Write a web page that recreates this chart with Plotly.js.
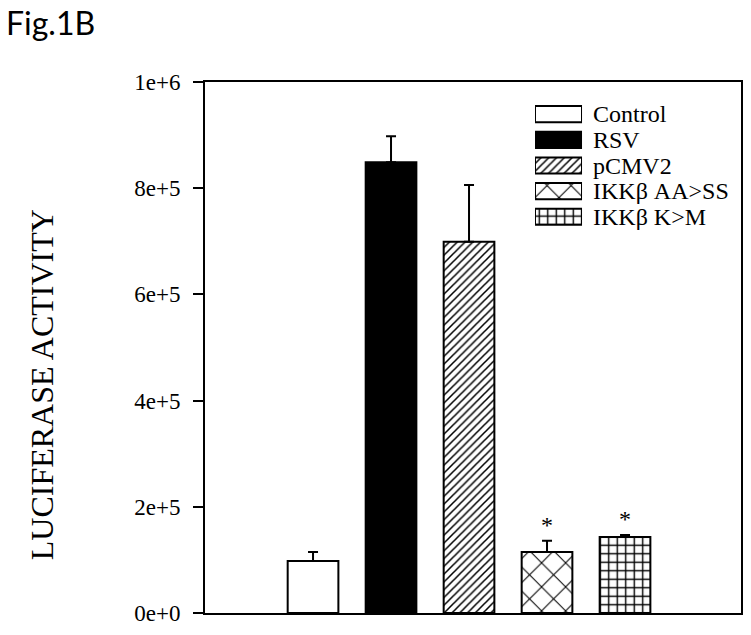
<!DOCTYPE html>
<html><head><meta charset="utf-8">
<script src="https://cdn.plot.ly/plotly-3.0.1.min.js"></script>
<style>html,body{margin:0;padding:0;background:#fff}#chart{width:751px;height:635px}</style>
</head><body><div id="chart"></div>
<script>
const categories = ["Control", "RSV", "pCMV2", "IKKβ AA>SS", "IKKβ K>M"];
const values = [98000, 849000, 699000, 115000, 143000];
const errors = [17000, 49000, 107000, 21000, 4000];
const significant = [false, false, false, true, true];
const tickValues = [0, 200000, 400000, 600000, 800000, 1000000];
const tickLabels = ["0e+0", "2e+5", "4e+5", "6e+5", "8e+5", "1e+6"];

const fills = [
  {color: "#ffffff", pattern: {shape: ""}},
  {color: "#000000", pattern: {shape: ""}},
  {color: "#ffffff", pattern: {shape: "/", size: 5.5, solidity: 0.28, fgcolor: "#000", bgcolor: "#fff", fillmode: "replace"}},
  {color: "#ffffff", pattern: {shape: "x", size: 17, solidity: 0.12, fgcolor: "#000", bgcolor: "#fff", fillmode: "replace"}},
  {color: "#ffffff", pattern: {shape: "+", size: 8.5, solidity: 0.3, fgcolor: "#000", bgcolor: "#fff", fillmode: "replace"}}
];

// main bars
const traces = categories.map((c, i) => ({
  type: "bar",
  name: c,
  x: [i],
  y: [values[i]],
  width: 0.65,
  showlegend: false,
  marker: {color: fills[i].color, pattern: fills[i].pattern, line: {color: "#000", width: 2}},
  error_y: {type: "data", array: [errors[i]], arrayminus: [0], symmetric: false, color: "#000", thickness: 2, width: 5},
  hoverinfo: "skip"
}));

// legend swatches (drawn as bars on a small inset axis so patterns show at full size)
categories.forEach((c, i) => {
  traces.push({
    type: "bar", orientation: "h", name: c,
    x: [1], y: [i], width: 0.63, base: 0,
    xaxis: "x2", yaxis: "y2", showlegend: false, hoverinfo: "skip",
    marker: {color: fills[i].color, pattern: fills[i].pattern, line: {color: "#000", width: 2}}
  });
});

const annotations = [];
categories.forEach((c, i) => {
  if (significant[i]) {
    annotations.push({x: i, y: values[i] + errors[i], xref: "x", yref: "y", text: "*", showarrow: false,
      yanchor: "bottom", yshift: 1, font: {family: "Liberation Serif", size: 24, color: "#000"}});
  }
  annotations.push({x: 1, y: i, xref: "x2", yref: "y2", text: c, showarrow: false, xanchor: "left", yanchor: "middle",
    xshift: 9, font: {family: "Liberation Serif", size: 24, color: "#000"}});
});
annotations.push({x: -0.304, y: 0.429, xref: "paper", yref: "paper", xanchor: "center", yanchor: "middle",
  text: "LUCIFERASE ACTIVITY", textangle: -90,
  showarrow: false, font: {family: "Liberation Serif", size: 32, color: "#000"}});
annotations.push({x: -0.375, y: 1.152, xref: "paper", yref: "paper", xanchor: "left", yanchor: "top",
  text: "Fig.1B", showarrow: false, font: {family: "Lato", size: 32, color: "#000"}});

const layout = {
  width: 751, height: 635,
  margin: {l: 205, r: 10, t: 82, b: 22},
  paper_bgcolor: "#fff", plot_bgcolor: "#fff",
  barmode: "overlay",
  showlegend: false,
  xaxis: {range: [-1.385, 5.487], showticklabels: false, ticks: "", showgrid: false, zeroline: false,
    showline: true, linecolor: "#000", linewidth: 2, mirror: true},
  yaxis: {range: [0, 1000000], tickvals: tickValues, ticktext: tickLabels, ticks: "outside", ticklen: 10, tickwidth: 2,
    tickcolor: "#000", showgrid: false, zeroline: false, showline: true, linecolor: "#000", linewidth: 2, mirror: true,
    ticklabelstandoff: 8, tickfont: {family: "Liberation Serif", size: 23, color: "#000"}},
  xaxis2: {domain: [0.6157, 0.7034], range: [0, 1], anchor: "y2", visible: false, fixedrange: true},
  yaxis2: {domain: [0.722, 0.9635], range: [4.5, -0.5], anchor: "x2", visible: false, fixedrange: true},
  annotations: annotations
};

Plotly.newPlot("chart", traces, layout, {displayModeBar: false, staticPlot: true});
</script></body></html>
